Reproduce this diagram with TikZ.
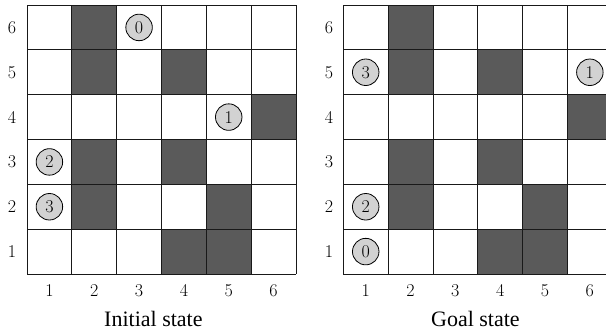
\documentclass[tikz,border=0pt]{standalone}
\usepackage{fontspec}
\newfontfamily\capfont{Liberation Serif}
\definecolor{obsgray}{HTML}{5A5A5A}
\definecolor{agentgray}{HTML}{D2D2D2}
\begin{document}
\begin{tikzpicture}[x=1pt,y=1pt,
  obst/.style={fill=obsgray},
  gridline/.style={draw=black!90,line width=0.9pt},
  agent/.style={circle,draw=black,line width=0.8pt,fill=agentgray,minimum size=26.5pt,inner sep=0pt,font=\fontsize{18}{18}\selectfont},
  lbl/.style={font=\fontsize{18}{18}\selectfont},
  captext/.style={font=\capfont\fontsize{22}{22}\selectfont,anchor=base}]
\useasboundingbox (0,0) rectangle (606,333);
% ---------- Initial state ----------
\begin{scope}[shift={(27,59)},x=44.83pt,y=44.83pt]
  \foreach \c/\r in {2/6,2/5,4/5,6/4,2/3,4/3,2/2,5/2,4/1,5/1}
    \fill[obst] (\c-1,\r-1) rectangle (\c,\r);
  \draw[gridline] (0,0) grid[step=1] (6,6);
  \foreach \r in {1,...,6} \node[lbl] (Lrow\r) at (-0.335,\r-0.5) {\r};
  \foreach \c in {1,...,6} \node[lbl] (Lcol\c) at (\c-0.5,-0.37) {\c};
  \node[agent] (La0) at (2.5,5.5) {0};
  \node[agent] (La1) at (4.5,3.5) {1};
  \node[agent] (La2) at (0.5,2.5) {2};
  \node[agent] (La3) at (0.5,1.5) {3};
  \node[captext] (Lcap) at (2.82,-1.16) {Initial state};
\end{scope}
% ---------- Goal state ----------
\begin{scope}[shift={(343.3,59)},x=44.83pt,y=44.83pt]
  \foreach \c/\r in {2/6,2/5,4/5,6/4,2/3,4/3,2/2,5/2,4/1,5/1}
    \fill[obst] (\c-1,\r-1) rectangle (\c,\r);
  \draw[gridline] (0,0) grid[step=1] (6,6);
  \foreach \r in {1,...,6} \node[lbl] (Rrow\r) at (-0.32,\r-0.5) {\r};
  \foreach \c in {1,...,6} \node[lbl] (Rcol\c) at (\c-0.5,-0.37) {\c};
  \node[agent] (Ra3) at (0.5,4.5) {3};
  \node[agent] (Ra1) at (5.5,4.5) {1};
  \node[agent] (Ra2) at (0.5,1.5) {2};
  \node[agent] (Ra0) at (0.5,0.5) {0};
  \node[captext] (Rcap) at (2.947,-1.16) {Goal state};
\end{scope}
\end{tikzpicture}
\end{document}
